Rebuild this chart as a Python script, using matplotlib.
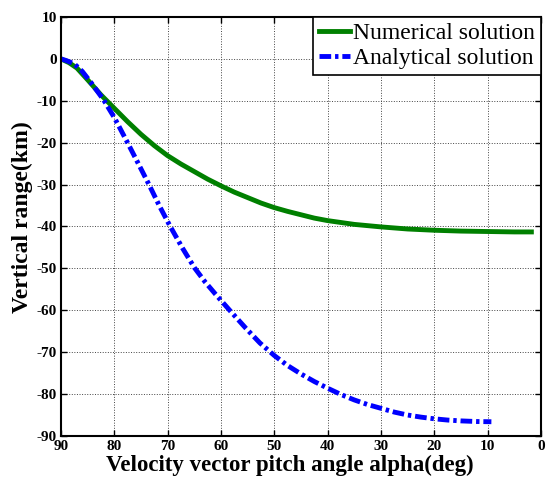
import matplotlib
matplotlib.use("Agg")
import matplotlib.pyplot as plt

# pitch angle (deg) and vertical range (km)
num_alpha = [90, 88.5, 87, 85, 82.5, 80, 77.5, 75, 72.5, 70, 67.5, 65, 62.5, 60,
             57.5, 55, 52.5, 50, 47.5, 45, 42.5, 40, 35, 30, 25, 20, 15, 10, 5, 1.8]
num_range = [0, -0.9, -2.2, -5.0, -8.6, -11.8, -15.0, -18.0, -20.7, -23.1, -25.1,
             -26.9, -28.7, -30.3, -31.8, -33.1, -34.4, -35.5, -36.4, -37.2, -38.0,
             -38.6, -39.5, -40.1, -40.6, -40.9, -41.1, -41.2, -41.3, -41.3]

ana_alpha = [90, 89, 87.5, 86, 84.4, 82, 80, 77.6, 75.5, 73.5, 71.5, 69.6, 67.2,
             65, 63, 61, 58.3, 55.4, 52.7, 50, 47.5, 45, 42.5, 40, 37.5, 35, 32.5,
             30, 27.5, 25, 22.5, 20, 17.5, 15, 12, 9.3]
ana_range = [0, -0.4, -1.2, -3.0, -5.6, -9.8, -14.0, -19.8, -25.0, -30.0, -35.2,
             -39.8, -45.2, -49.8, -53.2, -56.2, -60.1, -64.2, -67.8, -70.8, -73.2,
             -75.2, -77.0, -78.6, -80.1, -81.4, -82.5, -83.4, -84.3, -85.0, -85.5,
             -85.9, -86.2, -86.4, -86.55, -86.6]

xticks = [90, 80, 70, 60, 50, 40, 30, 20, 10, 0]
yticks = [10, 0, -10, -20, -30, -40, -50, -60, -70, -80, -90]

plt.rcParams['font.family'] = ['Liberation Serif', 'DejaVu Serif']
plt.rcParams['axes.unicode_minus'] = False

fig = plt.figure(figsize=(5.47, 4.80), dpi=100)
ax = fig.add_axes([0.1115, 0.0917, 0.8775, 0.8729])

ax.plot(num_alpha, num_range, color='#008000', lw=3.5, solid_joinstyle='round',
        label='Numerical solution')
ax.plot(ana_alpha, ana_range, color='#0000ff', lw=3.5, ls=(0, (2.4, 0.8, 0.7, 0.8)),
        label='Analytical solution')

ax.set_xlim(90, 0)
ax.set_ylim(-90, 10)
ax.set_xticks(xticks)
ax.set_yticks(yticks)
ax.tick_params(direction='in', top=True, right=True, length=4, width=1,
               labelsize=11, pad=3)
for lab in ax.get_xticklabels() + ax.get_yticklabels():
    lab.set_fontweight('bold')
for sp in ax.spines.values():
    sp.set_linewidth(1.5)

ax.grid(True, ls=':', color='#444444', lw=0.7)

ax.set_xlabel('Velocity vector pitch angle alpha(deg)', fontsize=16.5, fontweight='bold',
              labelpad=0)
ax.set_ylabel('Vertical range(km)', fontsize=17, fontweight='bold', labelpad=1)
ax.xaxis.set_label_coords(0.477, -0.044)
ax.xaxis.label.set_va('top')
ax.yaxis.set_label_coords(-0.058, 0.523)

leg = ax.legend(loc='upper right', fontsize=17, fancybox=False, framealpha=1,
                edgecolor='black', borderaxespad=0, handlelength=1.3,
                handletextpad=0.15, borderpad=0.25, labelspacing=0.15)
leg.get_frame().set_linewidth(1.2)

fig.savefig('out.png', dpi=100)
